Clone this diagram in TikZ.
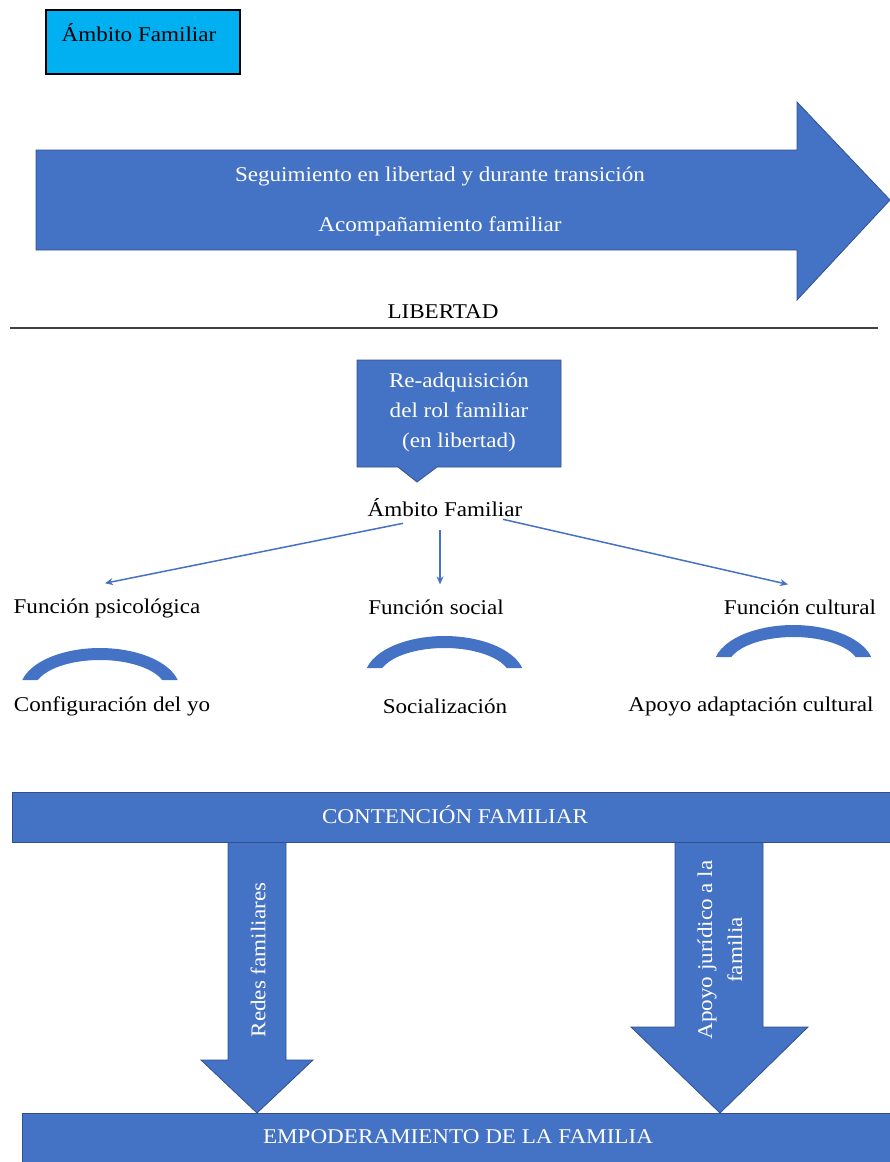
\documentclass[tikz,border=0pt]{standalone}
\usepackage{fontspec}
\setmainfont[FakeStretch=1.1]{Liberation Serif}
\usetikzlibrary{arrows.meta,positioning}
\definecolor{blockblue}{HTML}{4472C4}
\definecolor{edgeblue}{HTML}{2F528F}
\definecolor{skyfill}{HTML}{00B0F0}
\begin{document}
\begin{tikzpicture}[x=1pt, y=-1pt,
  txt/.style = {font=\fontsize{21}{30}\selectfont, inner sep=0pt},
  wtxt/.style = {txt, text=white},
  bluebox/.style = {fill=blockblue, draw=edgeblue, line width=0.8pt},
  link/.style = {draw=blockblue, line width=1.5pt, -{Stealth[length=8pt, width=7pt]}}]
\useasboundingbox (0,0) rectangle (890,1162);

% ambito familiar, arriba
\node (topbox) [draw=black, fill=skyfill, line width=1.2pt, minimum width=194pt, minimum height=64pt, inner sep=0pt] at (143,42) {};
\node[txt] (toptxt) at (139,33) {Ámbito Familiar};

% flecha grande
\draw[bluebox] (36,150) -- (797,150) -- (797,102) -- (890,200) -- (797,300) -- (797,250) -- (36,250) -- cycle;
\node[wtxt] (seg) at (440,176) {Seguimiento en libertad y durante transición};
\node[wtxt] (acomp) at (440,226) {Acompañamiento familiar};

\node[txt] (lib) at (443,312) {LIBERTAD};
\draw[line width=1.5pt, black!75] (10,328) -- (878,328);

% globo
\draw[bluebox] (357,360) -- (561,360) -- (561,467) -- (437,467) -- (417,482) -- (398,467) -- (357,467) -- cycle;
\node[wtxt, align=center] (readq) at (459,412) {Re-adquisición\\del rol familiar\\(en libertad)};

\node[txt] (amb) at (445,508) {Ámbito Familiar};

\node[txt] (psi) at (107,608) {Función psicológica};
\node[txt] (soc) at (436,607) {Función social};
\node[txt] (cul) at (800,607) {Función cultural};

\draw[link] ([xshift=-42pt, yshift=-6pt]amb.south) -- ([xshift=-2pt, yshift=15pt]psi.north);
\draw[link] ([xshift=-5pt, yshift=-13pt]amb.south) -- ([xshift=4pt, yshift=15pt]soc.north);
\draw[link] ([xshift=58pt, yshift=-2pt]amb.south) -- ([xshift=-12pt, yshift=15pt]cul.north);

% arcos
\foreach \cx/\cy in {100/690, 444.5/678, 793.5/667}
  \fill[blockblue] (\cx-77.7,\cy-10) arc[start angle=166.2, end angle=13.8, x radius=80pt, y radius=42pt]
    -- (\cx+62.2,\cy-10) arc[start angle=19.47, end angle=160.53, x radius=66pt, y radius=30pt] -- cycle;

\node[txt] (conf) at (112,706) {Configuración del yo};
\node[txt] (socz) at (445,706) {Socialización};
\node[txt] (adap) at (751,706) {Apoyo adaptación cultural};

% flechas abajo
\draw[bluebox] (228,842) -- (286,842) -- (286,1060) -- (313,1060) -- (257,1113) -- (201,1060) -- (228,1060) -- cycle;
\draw[bluebox] (675,842) -- (763,842) -- (763,1027) -- (808,1027) -- (720,1113) -- (631,1027) -- (675,1027) -- cycle;
\node[wtxt, rotate=90] (redes) at (258,960) {Redes familiares};
\node[wtxt, rotate=90, align=center] (jur) at (720,950) {Apoyo jurídico a la\\familia};

% barras
\node (cont) [bluebox, minimum width=878pt, minimum height=50pt, inner sep=0pt] at (451,817) {};
\node[wtxt] (conttxt) at (455,815) {CONTENCIÓN FAMILIAR};
\node (emp) [bluebox, minimum width=868pt, minimum height=50pt, inner sep=0pt] at (456,1138) {};
\node[wtxt] (emptxt) at (458,1137) {EMPODERAMIENTO DE LA FAMILIA};
\end{tikzpicture}
\end{document}
